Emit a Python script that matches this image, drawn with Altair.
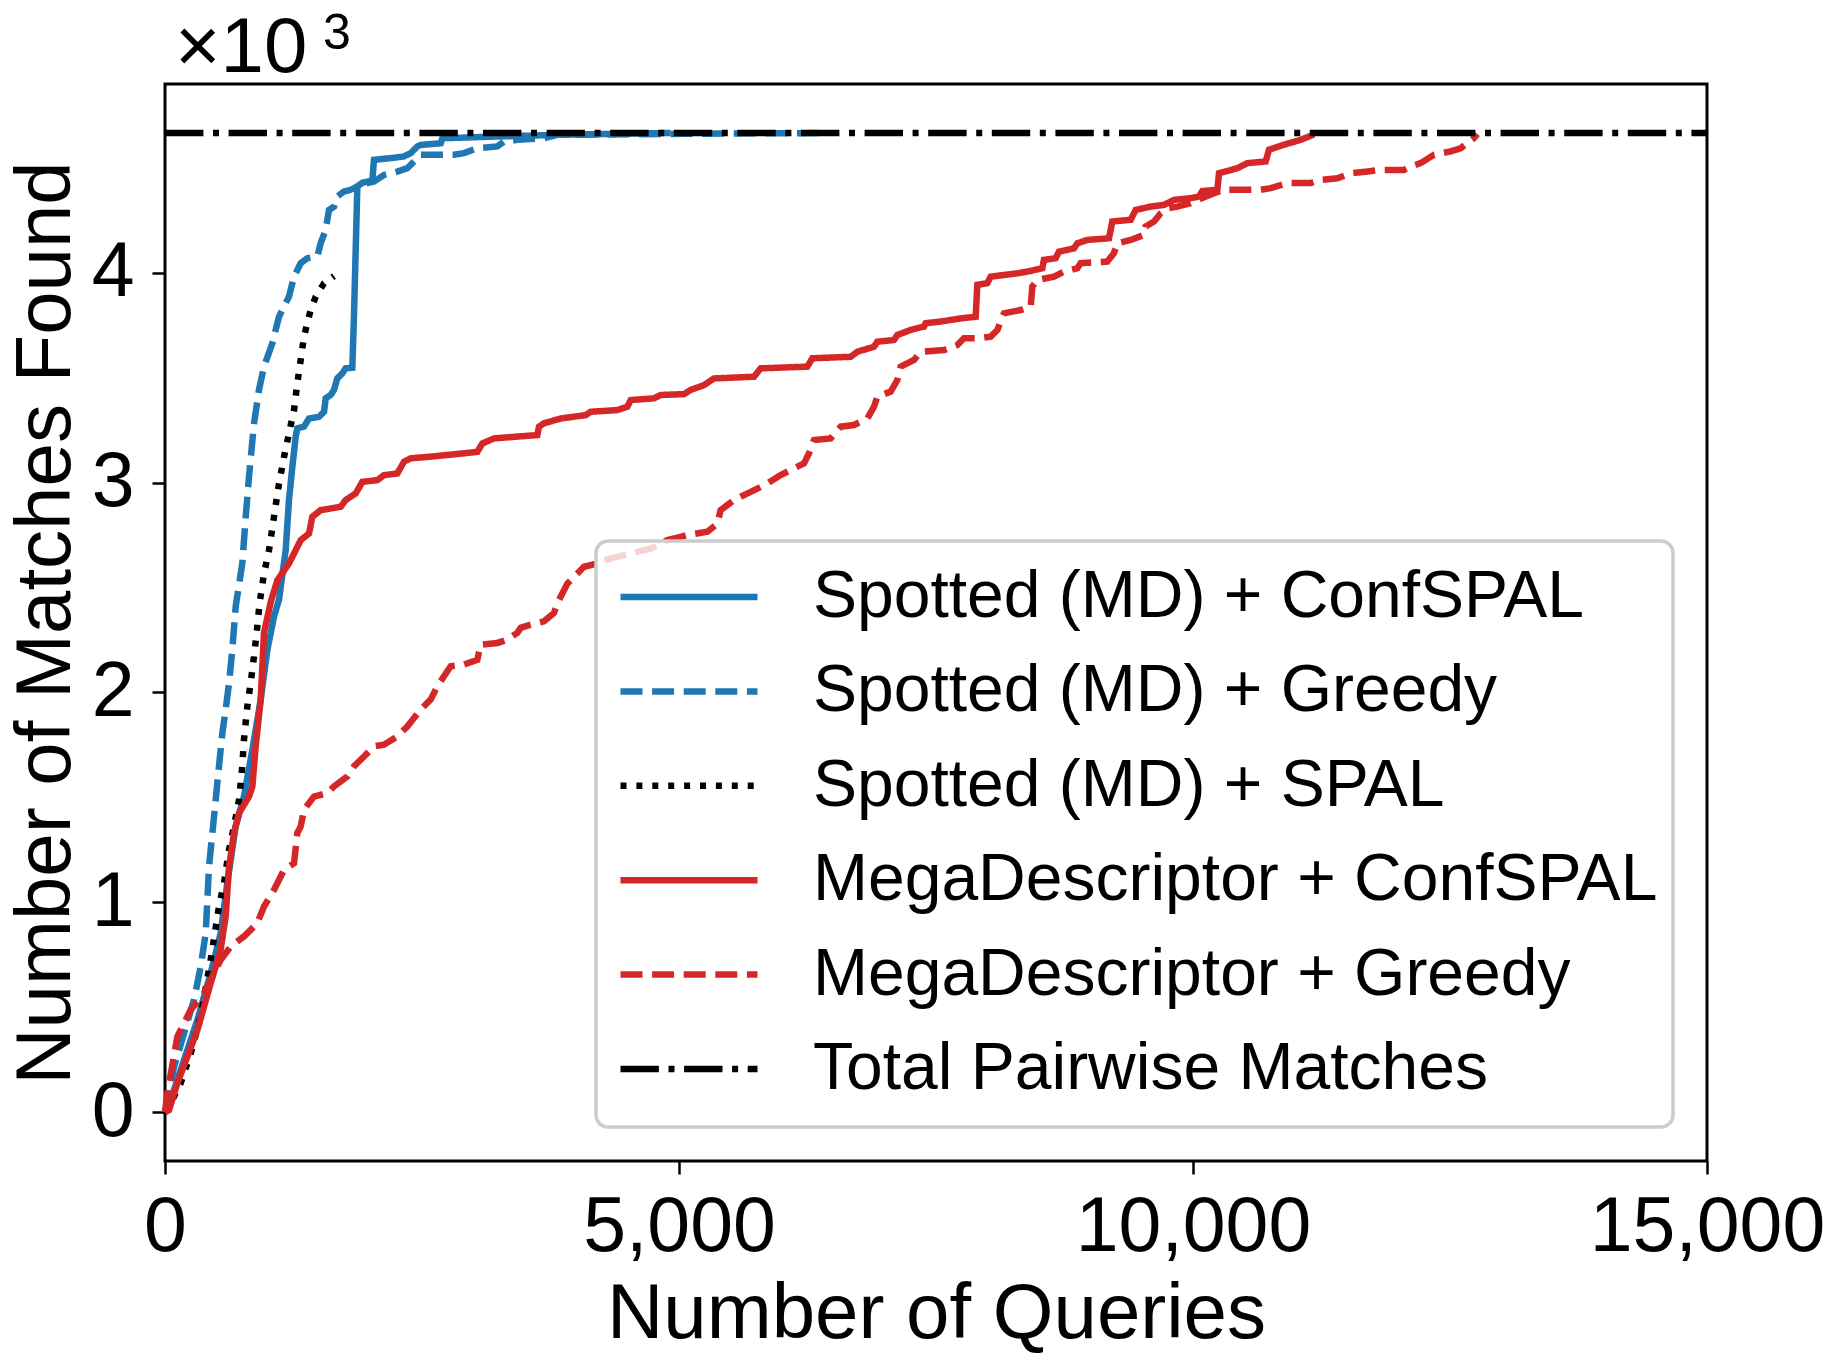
import altair as alt
import pandas as pd

# Cumulative number of matches found against the number of queries issued,
# one list of (queries, matches) points per method.
SPOTTED_CONFSPAL = [
    (0, 0), (23, 10), (185, 248), (315, 439), (444, 661), (541, 852), (606, 1091),
    (687, 1361), (768, 1504), (850, 1727), (931, 1966), (996, 2204), (1061, 2363),
    (1109, 2443), (1174, 2678), (1206, 2917), (1239, 3076), (1271, 3219), (1287, 3259),
    (1352, 3267), (1401, 3306), (1498, 3314), (1547, 3338), (1563, 3402), (1611, 3418),
    (1644, 3442), (1676, 3497), (1725, 3521), (1757, 3545), (1822, 3548), (1838, 3791),
    (1855, 4109), (1871, 4412), (1920, 4430), (2017, 4440), (2033, 4539), (2195, 4547),
    (2325, 4555), (2390, 4571), (2455, 4603), (2487, 4610), (2682, 4618), (2698, 4642),
    (2844, 4644), (3233, 4650), (3816, 4658), (4919, 4667),
]

SPOTTED_GREEDY = [
    (0, 0), (23, 57), (88, 216), (185, 375), (282, 534), (347, 693), (396, 852),
    (412, 1011), (428, 1170), (477, 1409), (493, 1488), (525, 1648), (558, 1807),
    (590, 1918), (623, 2045), (655, 2204), (688, 2411), (752, 2615), (785, 2837),
    (817, 3028), (866, 3283), (914, 3442), (963, 3553), (1044, 3664), (1109, 3791),
    (1141, 3823), (1206, 3887), (1255, 3982), (1320, 4046), (1384, 4070), (1482, 4078),
    (1514, 4141), (1563, 4205), (1595, 4300), (1644, 4316), (1676, 4364), (1741, 4388),
    (1806, 4396), (1903, 4420), (2033, 4436), (2130, 4467), (2260, 4483), (2357, 4499),
    (2422, 4531), (2487, 4563), (2811, 4563), (2909, 4571), (3038, 4594), (3233, 4603),
    (3298, 4626), (3427, 4634), (3687, 4642), (3816, 4658), (5049, 4663), (6440, 4667),
]

SPOTTED_SPAL = [
    (0, 0), (23, 10), (152, 137), (250, 280), (347, 455), (444, 725), (525, 980),
    (574, 1091), (623, 1250), (671, 1361), (720, 1488), (752, 1648), (768, 1775),
    (801, 1934), (833, 2045), (866, 2172), (898, 2315), (920, 2425), (963, 2567),
    (1012, 2678), (1060, 2837), (1109, 2996), (1158, 3123), (1206, 3235), (1255, 3346),
    (1287, 3474), (1320, 3585), (1352, 3696), (1384, 3760), (1417, 3823), (1466, 3887),
    (1547, 3950), (1644, 3985),
]

MEGA_CONFSPAL = [
    (0, 0), (39, 9), (120, 137), (315, 391), (444, 614), (541, 773), (590, 932),
    (623, 1170), (671, 1329), (720, 1425), (817, 1504), (850, 1552), (882, 1743),
    (931, 1966), (963, 2284), (1028, 2430), (1093, 2535), (1206, 2615), (1271, 2678),
    (1320, 2726), (1401, 2758), (1433, 2837), (1514, 2869), (1709, 2885), (1757, 2917),
    (1855, 2949), (1920, 3004), (2066, 3012), (2130, 3036), (2260, 3044), (2325, 3100),
    (2390, 3116), (2584, 3124), (2909, 3140), (3038, 3147), (3087, 3187), (3200, 3211),
    (3622, 3227), (3638, 3267), (3687, 3283), (3849, 3306), (4092, 3322), (4141, 3338),
    (4400, 3346), (4497, 3362), (4530, 3394), (4757, 3402), (4822, 3418), (5049, 3422),
    (5113, 3442), (5243, 3465), (5340, 3497), (5730, 3505), (5794, 3545), (6248, 3553),
    (6297, 3593), (6670, 3600), (6735, 3624), (6897, 3648), (6929, 3672), (7091, 3680),
    (7124, 3704), (7253, 3728), (7383, 3744), (7399, 3760), (7545, 3768), (7740, 3783),
    (7886, 3791), (7902, 3943), (7999, 3951), (8032, 3982), (8291, 3998), (8388, 4006),
    (8534, 4022), (8550, 4062), (8664, 4070), (8696, 4101), (8842, 4117), (8875, 4141),
    (8972, 4157), (9183, 4165), (9215, 4245), (9394, 4253), (9442, 4300), (9588, 4316),
    (9718, 4324), (9815, 4348), (9977, 4356), (10058, 4364), (10091, 4390), (10237, 4396),
    (10253, 4475), (10431, 4499), (10529, 4523), (10707, 4531), (10739, 4587),
    (10885, 4611), (11047, 4634), (11177, 4660),
]

MEGA_GREEDY = [
    (0, 0), (23, 89), (120, 359), (250, 487), (380, 566), (541, 725), (639, 789),
    (768, 837), (898, 900), (963, 980), (1060, 1059), (1158, 1155), (1255, 1186),
    (1287, 1330), (1320, 1361), (1352, 1441), (1449, 1504), (1579, 1520), (1644, 1552),
    (1774, 1600), (1838, 1648), (1936, 1695), (2033, 1743), (2130, 1751), (2260, 1791),
    (2357, 1838), (2487, 1918), (2584, 1966), (2649, 2029), (2714, 2077), (2779, 2125),
    (2909, 2133), (3038, 2156), (3071, 2228), (3233, 2236), (3330, 2252), (3427, 2284),
    (3460, 2308), (3557, 2323), (3687, 2339), (3784, 2379), (3816, 2424), (3914, 2519),
    (4011, 2567), (4076, 2599), (4206, 2615), (4335, 2639), (4530, 2662), (4724, 2686),
    (4886, 2726), (5016, 2742), (5081, 2750), (5276, 2766), (5373, 2805), (5405, 2869),
    (5535, 2917), (5632, 2941), (5762, 2972), (5859, 2996), (5989, 3036), (6086, 3060),
    (6216, 3092), (6265, 3140), (6313, 3203), (6475, 3211), (6573, 3267), (6702, 3275),
    (6832, 3306), (6897, 3362), (6929, 3410), (7059, 3434), (7124, 3489), (7156, 3553),
    (7286, 3585), (7351, 3624), (7578, 3632), (7708, 3656), (7772, 3688), (7902, 3688),
    (8032, 3696), (8097, 3728), (8145, 3791), (8161, 3807), (8323, 3823), (8421, 3839),
    (8437, 3935), (8486, 3966), (8648, 3982), (8745, 4006), (8875, 4022), (8907, 4046),
    (9166, 4054), (9231, 4094), (9264, 4141), (9394, 4157), (9523, 4181), (9539, 4221),
    (9621, 4245), (9686, 4284), (9750, 4308), (9848, 4316), (9977, 4332), (10107, 4360),
    (10204, 4380), (10302, 4396), (10658, 4396), (10756, 4404), (10918, 4428),
    (11145, 4428), (11242, 4443), (11404, 4451), (11534, 4475), (11696, 4483),
    (11826, 4491), (12052, 4491), (12117, 4507), (12214, 4523), (12344, 4563),
    (12506, 4579), (12603, 4594), (12668, 4618), (12733, 4642), (12766, 4662),
]

TOTAL_MATCHES = 4667
X_DOMAIN = [0, 15000]
X_TICKS = [0, 5000, 10000, 15000]
Y_TICKS = [0, 1000, 2000, 3000, 4000]

SERIES = [
    "Spotted (MD) + ConfSPAL",
    "Spotted (MD) + Greedy",
    "Spotted (MD) + SPAL",
    "MegaDescriptor + ConfSPAL",
    "MegaDescriptor + Greedy",
    "Total Pairwise Matches",
]
COLORS = ["#1f77b4", "#1f77b4", "#000000", "#d62728", "#d62728", "#000000"]
DASHES = [[1, 0], [22, 9.6], [6, 9.9], [1, 0], [22, 9.6], [38.4, 9.6, 6, 9.6]]

POINTS = [
    SPOTTED_CONFSPAL,
    SPOTTED_GREEDY,
    SPOTTED_SPAL,
    MEGA_CONFSPAL,
    MEGA_GREEDY,
    [(X_DOMAIN[0], TOTAL_MATCHES), (X_DOMAIN[1], TOTAL_MATCHES)],
]

rows = []
for name, pts in zip(SERIES, POINTS):
    for i, (q, m) in enumerate(pts):
        rows.append({"series": name, "queries": q, "matches": m, "idx": i})
df = pd.DataFrame(rows)

FONT = "Liberation Sans"
W, H = 1542, 1077
LINE_W = 6.5
Y_DOMAIN = [-0.05 * TOTAL_MATCHES, TOTAL_MATCHES * 1.05]

legend = alt.Legend(
    orient="none",
    legendX=452,
    legendY=480,
    title=None,
    padding=0,
    symbolType="stroke",
    symbolSize=137 * 137,
    symbolStrokeWidth=LINE_W,
    clipHeight=66,
    rowPadding=28.4,
    labelFont=FONT,
    labelFontSize=66,
    labelColor="black",
    labelOffset=52,
    labelLimit=2000,
)

x_enc = alt.X(
    "queries:Q",
    scale=alt.Scale(domain=X_DOMAIN, nice=False, zero=False),
    axis=alt.Axis(
        values=X_TICKS,
        format=",d",
        title="Number of Queries",
        titleX=W / 2,
        titleY=176,
        titleAlign="center",
        titleBaseline="alphabetic",
        labelPadding=15,
    ),
)
y_enc = alt.Y(
    "matches:Q",
    scale=alt.Scale(domain=Y_DOMAIN, nice=False, zero=False),
    axis=alt.Axis(
        values=Y_TICKS,
        labelExpr="datum.value / 1000",
        title="Number of Matches Found",
        titleAngle=270,
        titleX=-96,
        titleY=H / 2,
        titleAlign="center",
        titleBaseline="alphabetic",
        labelPadding=18,
    ),
)

base = alt.Chart(df).mark_line(strokeWidth=LINE_W, strokeCap="butt").encode(
    x=x_enc,
    y=y_enc,
    color=alt.Color("series:N", scale=alt.Scale(domain=SERIES, range=COLORS), legend=legend),
    strokeDash=alt.StrokeDash("series:N", scale=alt.Scale(domain=SERIES, range=DASHES), legend=legend),
    order=alt.Order("idx:Q"),
)

# one layer per method so later methods are drawn on top
lines = [base.transform_filter(alt.datum.series == name) for name in SERIES]

# legend frame: translucent white box with a light grey rounded border
frame = alt.Chart(pd.DataFrame({"k": [0]})).mark_rect(
    fill="white", fillOpacity=0.8, stroke="#cccccc", strokeWidth=3.5, cornerRadius=12
).encode(x=alt.value(431), x2=alt.value(1508), y=alt.value(457), y2=alt.value(1043))

# axis multiplier shown above the y axis
mult = alt.Chart(pd.DataFrame({"t": ["\u00d710"]})).mark_text(
    align="left", baseline="alphabetic", font=FONT, fontSize=78, color="black"
).encode(x=alt.value(10), y=alt.value(-12), text="t:N")
expo = alt.Chart(pd.DataFrame({"t": ["3"]})).mark_text(
    align="left", baseline="alphabetic", font=FONT, fontSize=50, color="black"
).encode(x=alt.value(158), y=alt.value(-35), text="t:N")

chart = (
    alt.layer(*lines, frame, mult, expo)
    .properties(
        width=W,
        height=H,
        autosize=alt.AutoSizeParams(type="none"),
        padding={"left": 165, "top": 84, "right": 119, "bottom": 193},
        background="white",
    )
    .configure_view(stroke="black", strokeWidth=3)
    .configure_axis(
        grid=False,
        domain=False,
        ticks=True,
        tickSize=13,
        tickWidth=2.5,
        tickColor="black",
        labelFont=FONT,
        labelFontSize=77,
        labelColor="black",
        labelLimit=1000,
        labelFlush=False,
        labelOverlap=False,
        titleFont=FONT,
        titleFontSize=78,
        titleFontWeight="normal",
        titleColor="black",
        titleLimit=3000,
    )
)

chart.save("out.html", embed_options={"renderer": "svg", "actions": False})
